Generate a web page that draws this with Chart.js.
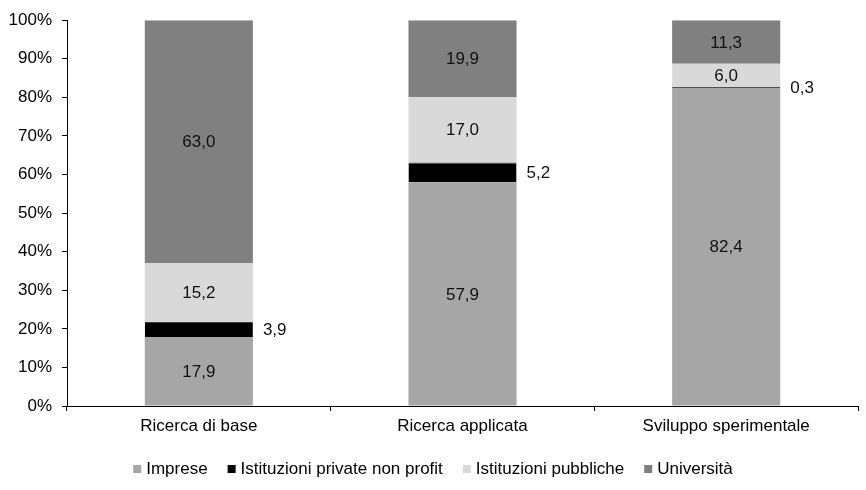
<!DOCTYPE html>
<html>
<head>
<meta charset="utf-8">
<script src="https://cdn.jsdelivr.net/npm/chart.js@4/dist/chart.umd.min.js"></script>
<style>
  html, body { margin: 0; padding: 0; background: #fff; }
  #wrap { width: 866px; height: 490px; }
</style>
</head>
<body>
<div id="wrap"><canvas id="chart" width="866" height="490"></canvas></div>
<script>
// stacked 100% bars: funding share by type of research
const categories = ['Ricerca di base', 'Ricerca applicata', 'Sviluppo sperimentale'];
const imprese    = [17.9, 57.9, 82.4];
const privateNp  = [3.9, 5.2, 0.3];
const pubbliche  = [15.2, 17.0, 6.0];
const universita = [63.0, 19.9, 11.3];

const FONT = 'Liberation Sans, Arial, sans-serif';
const SIZE = 17;

const fmt = v => v.toFixed(1).replace('.', ',');

// value labels: centered in segment, black segment label goes to the right of the bar
const valueLabels = {
  id: 'valueLabels',
  afterDatasetsDraw(chart) {
    const ctx = chart.ctx;
    ctx.save();
    ctx.font = SIZE + 'px ' + FONT;
    ctx.fillStyle = '#111';
    ctx.textBaseline = 'middle';
    chart.data.datasets.forEach((ds, di) => {
      const meta = chart.getDatasetMeta(di);
      meta.data.forEach((bar, i) => {
        const v = ds.data[i];
        const midY = (bar.y + bar.base) / 2;
        if (ds.outside) {
          ctx.textAlign = 'left';
          ctx.fillText(fmt(v), bar.x + bar.width / 2 + 10, midY + 1);
        } else {
          ctx.textAlign = 'center';
          ctx.fillText(fmt(v), bar.x, midY + 1);
        }
      });
    });
    ctx.restore();
  }
};

// compact legend (small square, tight gap to text) centered under the chart
const bottomLegend = {
  id: 'bottomLegend',
  afterDraw(chart) {
    const ctx = chart.ctx;
    const box = 8, gapText = 5, gapItem = 20;
    const y = chart.height - 22;
    ctx.save();
    ctx.font = SIZE + 'px ' + FONT;
    ctx.textBaseline = 'middle';
    ctx.textAlign = 'left';
    const items = chart.data.datasets.map(ds => ({
      text: ds.label, color: ds.backgroundColor, w: ctx.measureText(ds.label).width,
    }));
    const total = items.reduce((s, it) => s + box + gapText + it.w, 0) + gapItem * (items.length - 1);
    let x = (chart.width - total) / 2;
    items.forEach(it => {
      ctx.fillStyle = it.color;
      ctx.fillRect(x, y - box / 2 + 1, box, box);
      x += box + gapText;
      ctx.fillStyle = '#000';
      ctx.fillText(it.text, x, y + 1);
      x += it.w + gapItem;
    });
    ctx.restore();
  }
};

new Chart(document.getElementById('chart').getContext('2d'), {
  type: 'bar',
  data: {
    labels: categories,
    datasets: [
      { label: 'Imprese', data: imprese, backgroundColor: '#a6a6a6' },
      { label: 'Istituzioni private non profit', data: privateNp, backgroundColor: '#000000', outside: true,
        borderColor: '#404040', borderWidth: { top: 1, bottom: 0, left: 0, right: 0 } },
      { label: 'Istituzioni pubbliche', data: pubbliche, backgroundColor: '#d9d9d9' },
      { label: 'Università', data: universita, backgroundColor: '#808080' },
    ],
  },
  options: {
    responsive: false,
    animation: false,
    layout: { padding: { top: 16, right: 8, left: 0, bottom: 42 } },
    datasets: { bar: { categoryPercentage: 1, barPercentage: 0.41 } },
    scales: {
      x: {
        stacked: true,
        grid: { drawOnChartArea: false, tickLength: 5, color: '#000' },
        border: { color: '#000', width: 1 },
        ticks: { color: '#000', font: { family: FONT, size: SIZE }, padding: 5 },
        afterFit: s => { s.height = 42; },
      },
      y: {
        stacked: true,
        min: 0,
        max: 100,
        grid: { drawOnChartArea: false, tickLength: 5, color: '#000' },
        border: { color: '#000', width: 1 },
        ticks: { stepSize: 10, color: '#000', font: { family: FONT, size: SIZE }, padding: 10,
                 callback: v => v + '%' },
        afterFit: s => { s.width = 67; },
      },
    },
    plugins: {
      tooltip: { enabled: false },
      legend: { display: false },
    },
  },
  plugins: [valueLabels, bottomLegend],
});
</script>
</body>
</html>
